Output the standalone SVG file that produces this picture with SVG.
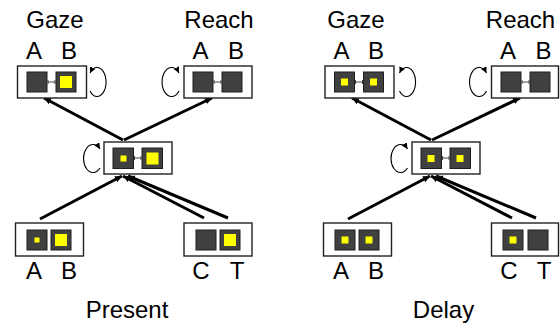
<svg xmlns="http://www.w3.org/2000/svg" width="560" height="330" viewBox="0 0 560 330">
<style>
.box{fill:#fff;stroke:#222;stroke-width:1.4}
.sq{fill:#404040;stroke:#1e1e1e;stroke-width:1}
.y{fill:#ffff00}
.lk{fill:none;stroke:#444;stroke-width:1}
.t{font-family:"Liberation Sans",Arial,sans-serif;font-size:24px;fill:#000;text-anchor:middle}
.edge{stroke:#000;stroke-width:3;fill:none;marker-end:url(#ar)}
.loop{fill:none;stroke:#000;stroke-width:1.1;marker-end:url(#sm)}
</style>
<defs>
<marker id="ar" markerUnits="userSpaceOnUse" markerWidth="8" markerHeight="7" refX="7" refY="3.25" orient="auto">
<path d="M0,0 L7,3.25 L0,6.5 Z" fill="#000"/>
</marker>
<marker id="sm" markerUnits="userSpaceOnUse" markerWidth="7" markerHeight="6" refX="6" refY="3" orient="auto">
<path d="M0,0 L6,3 L0,6 Z" fill="#000"/>
</marker>
</defs>

<g id="labels">
<text class="t" x="55" y="28">Gaze</text>
<text class="t" x="219" y="28">Reach</text>
<text class="t" x="34" y="59">A</text><text class="t" x="69" y="59">B</text>
<text class="t" x="200.5" y="59">A</text><text class="t" x="236" y="59">B</text>
<text class="t" x="34" y="279">A</text><text class="t" x="69" y="279">B</text>
<text class="t" x="201" y="279">C</text><text class="t" x="237" y="279">T</text>
<text class="t" x="127" y="318">Present</text>
<text class="t" x="356" y="28">Gaze</text>
<text class="t" x="520.5" y="28">Reach</text>
<text class="t" x="341.5" y="59">A</text><text class="t" x="376" y="59">B</text>
<text class="t" x="508" y="59">A</text><text class="t" x="543.5" y="59">B</text>
<text class="t" x="341" y="279">A</text><text class="t" x="376" y="279">B</text>
<text class="t" x="509" y="279">C</text><text class="t" x="544" y="279">T</text>
<text class="t" x="443.5" y="318">Delay</text>
</g>

<g id="connectors">
<line class="edge" x1="123" y1="140" x2="44" y2="98"/>
<line class="edge" x1="124" y1="140" x2="212" y2="98"/>
<line class="edge" x1="40" y1="219" x2="122" y2="176"/>
<line class="edge" x1="204" y1="218" x2="123" y2="176"/>
<line class="edge" x1="228" y1="218" x2="128" y2="176"/>
<line class="edge" x1="431" y1="140" x2="352" y2="98"/>
<line class="edge" x1="432" y1="140" x2="520" y2="98"/>
<line class="edge" x1="348" y1="219" x2="430" y2="176"/>
<line class="edge" x1="512" y1="218" x2="431" y2="176"/>
<line class="edge" x1="536" y1="218" x2="436" y2="176"/>
<path class="loop" d="M90,91 A9,14.5 0 1 0 90,73"/>
<path class="loop" d="M179,91 A9.5,14.5 0 1 1 179,73"/>
<path class="loop" d="M100,168 A9.5,14 0 1 1 100,149"/>
<path class="loop" d="M399.5,91 A9,14.5 0 1 0 399.5,73"/>
<path class="loop" d="M486.5,91 A9.5,14.5 0 1 1 486.5,73"/>
<path class="loop" d="M407.5,168 A9.5,14 0 1 1 407.5,149"/>
</g>

<g id="gaze-present">
<rect class="box" x="17.5" y="66" width="69" height="32"/>
<rect class="sq" x="27" y="72" width="20" height="20"/>
<rect class="sq" x="56" y="72" width="20" height="20"/>
<path class="lk" d="M48,80v4M48,82H55M55,80v4"/>
<rect class="y" x="60" y="76" width="12" height="12"/>
</g>
<g id="reach-present">
<rect class="box" x="184" y="66" width="68" height="32"/>
<rect class="sq" x="193" y="72" width="20" height="20"/>
<rect class="sq" x="222" y="72" width="20" height="20"/>
<path class="lk" d="M214,80v4M214,82H221M221,80v4"/>
</g>
<g id="central-present">
<rect class="box" x="104" y="142" width="68" height="32"/>
<rect class="sq" x="113" y="148" width="20.5" height="20.5"/>
<rect class="sq" x="142" y="148" width="20.5" height="20.5"/>
<path class="lk" d="M134.5,156v4M134.5,158H141M141,156v4"/>
<rect class="y" x="120.5" y="155.5" width="6" height="6"/>
<rect class="y" x="146.5" y="152.5" width="12" height="12"/>
</g>
<g id="input-ab-present">
<rect class="box" x="15.5" y="223" width="68" height="33"/>
<rect class="sq" x="27" y="230" width="20" height="20"/>
<rect class="sq" x="51" y="230" width="20" height="20"/>
<rect class="y" x="34.5" y="237.5" width="5" height="5"/>
<rect class="y" x="55" y="234" width="12" height="12"/>
</g>
<g id="input-ct-present">
<rect class="box" x="184" y="223" width="68" height="33"/>
<rect class="sq" x="196" y="230" width="20" height="20"/>
<rect class="sq" x="220" y="230" width="20" height="20"/>
<rect class="y" x="224" y="234" width="12" height="12"/>
</g>

<g id="gaze-delay">
<rect class="box" x="325" y="66" width="69" height="32"/>
<rect class="sq" x="334.5" y="72" width="20" height="20"/>
<rect class="sq" x="363.5" y="72" width="20" height="20"/>
<path class="lk" d="M355.5,80v4M355.5,82H362.5M362.5,80v4"/>
<rect class="y" x="341" y="78.5" width="7" height="7"/>
<rect class="y" x="370" y="78.5" width="7" height="7"/>
</g>
<g id="reach-delay">
<rect class="box" x="491.5" y="66" width="67" height="32"/>
<rect class="sq" x="501" y="72" width="20" height="20"/>
<rect class="sq" x="530" y="72" width="20" height="20"/>
<path class="lk" d="M522,80v4M522,82H529M529,80v4"/>
</g>
<g id="central-delay">
<rect class="box" x="412" y="142" width="68" height="32"/>
<rect class="sq" x="421" y="148" width="20.5" height="20.5"/>
<rect class="sq" x="450" y="148" width="20.5" height="20.5"/>
<path class="lk" d="M442.5,156v4M442.5,158H449M449,156v4"/>
<rect class="y" x="427.5" y="155" width="7" height="7"/>
<rect class="y" x="456.5" y="155" width="7" height="7"/>
</g>
<g id="input-ab-delay">
<rect class="box" x="323.5" y="223" width="68" height="33"/>
<rect class="sq" x="335" y="230" width="20" height="20"/>
<rect class="sq" x="359" y="230" width="20" height="20"/>
<rect class="y" x="341.5" y="236.5" width="7" height="7"/>
<rect class="y" x="365.5" y="236.5" width="7" height="7"/>
</g>
<g id="input-ct-delay">
<rect class="box" x="491.5" y="223" width="67" height="33"/>
<rect class="sq" x="503" y="230" width="20" height="20"/>
<rect class="sq" x="528" y="230" width="20" height="20"/>
<rect class="y" x="509.5" y="236.5" width="7" height="7"/>
</g>
</svg>
